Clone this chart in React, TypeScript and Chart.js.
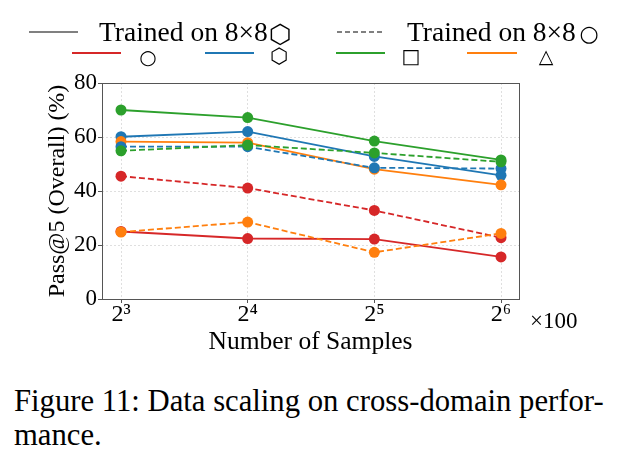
import React, { useEffect, useRef } from 'react';
import { Chart, registerables } from 'chart.js';

Chart.register(...registerables);

// Number of samples (×100), plotted on a log2 axis
const sampleCounts = [8, 16, 32, 64];
const xTickLabels = ['2³', '2⁴', '2⁵', '2⁶'];
const yTickValues = [0, 20, 40, 60, 80];

// Trained on 8×8 hexagon (solid lines)
const hexTrainedCircle = [25.0, 22.4, 22.2, 15.6];
const hexTrainedHexagon = [60.1, 62.0, 52.8, 45.8];
const hexTrainedSquare = [70.0, 67.2, 58.5, 51.5];
const hexTrainedTriangle = [58.3, 57.9, 48.1, 42.3];

// Trained on 8×8 circle (dashed lines)
const circTrainedCircle = [45.5, 41.1, 32.8, 22.7];
const circTrainedHexagon = [56.4, 56.4, 48.6, 48.3];
const circTrainedSquare = [54.9, 57.0, 54.1, 50.8];
const circTrainedTriangle = [24.8, 28.5, 17.3, 24.3];

const RED = '#d62728';
const BLUE = '#1f77b4';
const GREEN = '#2ca02c';
const ORANGE = '#ff7f0e';

const SERIF = "'Liberation Serif', 'DejaVu Serif', serif";
const SYM = "'DejaVu Sans', 'Noto Sans CJK SC', sans-serif";

const framePlugin = {
  id: 'frame',
  beforeDatasetsDraw(chart: any) {
    const { ctx, chartArea } = chart;
    const { left, top, right, bottom } = chartArea;
    ctx.save();
    ctx.strokeStyle = '#555555';
    ctx.lineWidth = 1;
    ctx.strokeRect(Math.round(left) + 0.5, Math.round(top) + 0.5, Math.round(right - left), Math.round(bottom - top));
    ctx.restore();
  },
};

function App() {
  const canvasRef = useRef<HTMLCanvasElement | null>(null);

  useEffect(() => {
    if (!canvasRef.current) return;
    const xs = sampleCounts.map((n) => Math.log2(n));
    const mk = (vals: number[]) => vals.map((v, i) => ({ x: xs[i], y: v }));
    const series = [
      { data: hexTrainedCircle, color: RED, dash: [] as number[] },
      { data: hexTrainedHexagon, color: BLUE, dash: [] as number[] },
      { data: hexTrainedSquare, color: GREEN, dash: [] as number[] },
      { data: hexTrainedTriangle, color: ORANGE, dash: [] as number[] },
      { data: circTrainedCircle, color: RED, dash: [6, 3] },
      { data: circTrainedHexagon, color: BLUE, dash: [6, 3] },
      { data: circTrainedSquare, color: GREEN, dash: [6, 3] },
      { data: circTrainedTriangle, color: ORANGE, dash: [6, 3] },
    ];
    const datasets = series.map((s, i) => ({
      data: mk(s.data),
      borderColor: s.color,
      backgroundColor: s.color,
      borderWidth: 1.8,
      borderDash: s.dash,
      pointRadius: 5.5,
      pointHoverRadius: 5.5,
      pointBorderWidth: 0,
      pointBackgroundColor: s.color,
      tension: 0,
      order: 100 - i,
    }));

    const chart = new Chart(canvasRef.current, {
      type: 'line',
      data: { datasets },
      options: {
        animation: false,
        responsive: false,
        devicePixelRatio: 1,
        layout: { padding: { left: 40, top: 83, right: 110, bottom: 0 } },
        plugins: { legend: { display: false }, tooltip: { enabled: false } },
        scales: {
          x: {
            type: 'linear',
            min: 2.85,
            max: 6.142,
            afterBuildTicks: (scale: any) => {
              scale.ticks = xs.map((v) => ({ value: v }));
            },
            afterFit: (scale: any) => {
              scale.height = 61;
            },
            ticks: {
              color: '#000',
              font: { family: SERIF, size: 24 },
              padding: -3,
              maxRotation: 0,
              callback: (v: any) => {
                const idx = xs.indexOf(Number(v));
                return idx >= 0 ? xTickLabels[idx] : '';
              },
            },
            grid: {
              color: 'rgba(0,0,0,0.16)',
              lineWidth: 0.8,
              tickColor: '#555555',
              tickLength: 4,
              tickWidth: 1,
              drawTicks: true,
            },
            border: { display: false, dash: [2, 2] },
            title: {
              display: true,
              text: 'Number of Samples',
              color: '#000',
              font: { family: SERIF, size: 25.5 },
              padding: { top: 0, bottom: 2 },
            },
          },
          y: {
            type: 'linear',
            min: 0,
            max: 80,
            afterBuildTicks: (scale: any) => {
              scale.ticks = yTickValues.map((v) => ({ value: v }));
            },
            afterFit: (scale: any) => {
              scale.width = 62;
            },
            ticks: {
              color: '#000',
              font: { family: SERIF, size: 23 },
              padding: 1,
            },
            grid: {
              color: 'rgba(0,0,0,0.16)',
              lineWidth: 0.8,
              tickColor: '#555555',
              tickLength: 4,
              tickWidth: 1,
              drawTicks: true,
            },
            border: { display: false, dash: [2, 2] },
            title: {
              display: true,
              text: 'Pass@5 (Overall) (%)',
              color: '#000',
              font: { family: SERIF, size: 24 },
              padding: { top: 3, bottom: 0 },
            },
          },
        },
      },
      plugins: [framePlugin],
    } as any);
    return () => chart.destroy();
  }, []);

  const text = (content: React.ReactNode, left: number, top: number, size: number, extra: any = {}) => (
    <div
      style={{
        position: 'absolute',
        left,
        top,
        fontFamily: SERIF,
        fontSize: size,
        lineHeight: `${size}px`,
        whiteSpace: 'nowrap',
        color: '#000',
        ...extra,
      }}
    >
      {content}
    </div>
  );

  const sym = (ch: string, cx: number, cy: number, size: number) => (
    <span
      style={{
        position: 'absolute',
        left: cx,
        top: cy,
        transform: 'translate(-50%, -50%)',
        fontFamily: SYM,
        fontSize: size,
        lineHeight: 1,
        color: '#000',
        whiteSpace: 'nowrap',
      }}
    >
      {ch}
    </span>
  );

  return (
    <div style={{ position: 'absolute', left: 0, top: 0, width: 629, height: 470, background: '#fff', overflow: 'hidden' }}>
      <canvas ref={canvasRef} width={629} height={360} style={{ position: 'absolute', left: 0, top: 0, width: 629, height: 360 }} />
      <svg width={629} height={70} style={{ position: 'absolute', left: 0, top: 0 }}>
        <line x1={29} y1={32} x2={78} y2={32} stroke="#808080" strokeWidth={2} />
        <line x1={337} y1={32} x2={385} y2={32} stroke="#808080" strokeWidth={2} strokeDasharray="5 3" />
        <line x1={72} y1={53} x2={121} y2={53} stroke={RED} strokeWidth={2} />
        <line x1={205} y1={53} x2={254} y2={53} stroke={BLUE} strokeWidth={2} />
        <line x1={336} y1={53} x2={385} y2={53} stroke={GREEN} strokeWidth={2} />
        <line x1={467} y1={53} x2={517} y2={53} stroke={ORANGE} strokeWidth={2} />
      </svg>
      {text('Trained on 8×8', 99, 18, 27.5)}
      {sym('⬡', 280, 34, 26)}
      {text('Trained on 8×8', 407, 18, 27.5)}
      {sym('○', 589, 34, 22)}
      {sym('○', 148, 57, 20)}
      {sym('⬡', 279, 56, 21)}
      {sym('□', 411, 56, 20)}
      {sym('△', 546, 56, 19)}
      {text('×100', 530, 309, 23)}
      {text('Figure 11: Data scaling on cross-domain perfor-', 14, 385, 30.7, { lineHeight: '33px' })}
      {text('mance.', 14, 419, 30.7, { lineHeight: '33px' })}
    </div>
  );
}

export default App;
